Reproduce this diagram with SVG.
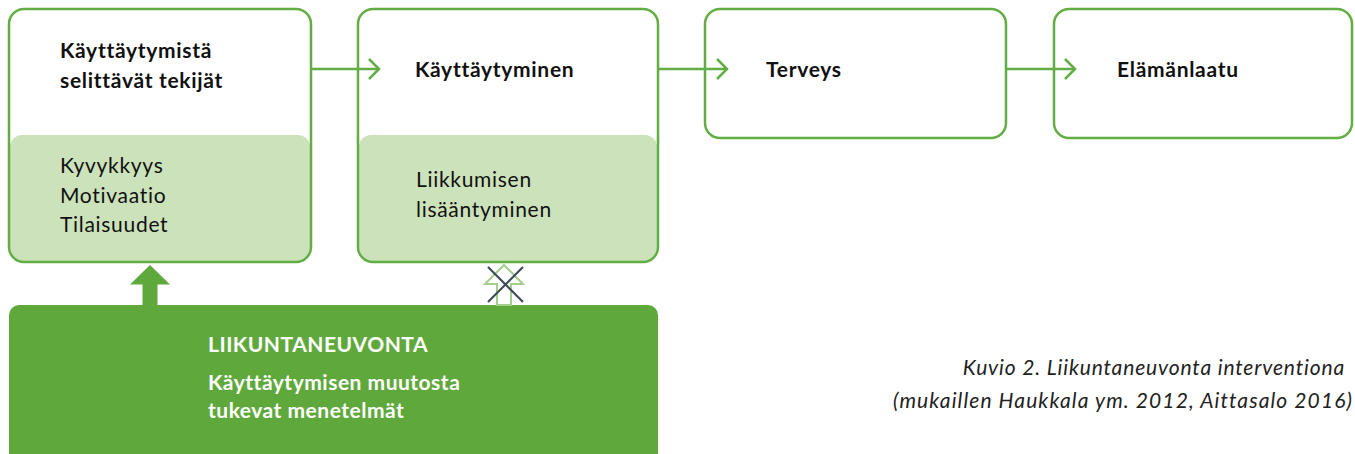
<svg xmlns="http://www.w3.org/2000/svg" width="1355" height="454" viewBox="0 0 1355 454">
<style>
text{font-variant-ligatures:none;font-feature-settings:"liga" 0}
.box{fill:none;stroke:#62ad44;stroke-width:2.5}
.bg{fill:#ffffff}
.light{fill:#cce2bb}
.t{font-family:Lato,"Open Sans","Liberation Sans",sans-serif;font-size:21px;letter-spacing:0.7px;fill:#111}
.b{font-weight:bold}
.w{fill:#ffffff;font-weight:bold;letter-spacing:0.5px}
.cap{font-family:Lato,"Open Sans","Liberation Sans",sans-serif;font-size:21px;letter-spacing:0.85px;font-style:italic;fill:#222;text-anchor:end}
.ln{stroke:#62ad44;stroke-width:2.5;fill:none}
</style>
<rect width="1355" height="454" fill="#ffffff"/>
<g id="node-selittavat">
<rect x="9" y="9" width="302" height="253" rx="15" class="bg"/>
<rect x="10" y="135" width="300" height="126" rx="12" class="light"/>
<rect x="9" y="9" width="302" height="253" rx="15" class="box"/>
<text class="t b" x="60" y="58">Käyttäytymistä</text>
<text class="t b" x="60" y="88">selittävät tekijät</text>
<text class="t" x="60" y="173">Kyvykkyys</text>
<text class="t" x="60" y="203">Motivaatio</text>
<text class="t" x="60" y="232">Tilaisuudet</text>
</g>
<g id="node-kayttaytyminen">
<rect x="358" y="9" width="300" height="253" rx="15" class="bg"/>
<rect x="359" y="135" width="298" height="126" rx="12" class="light"/>
<rect x="358" y="9" width="300" height="253" rx="15" class="box"/>
<text class="t b" x="415" y="77">Käyttäytyminen</text>
<text class="t" x="416" y="187">Liikkumisen</text>
<text class="t" x="416" y="217">lisääntyminen</text>
</g>
<g id="node-terveys">
<rect x="705" y="9" width="301" height="129" rx="15" class="box"/>
<text class="t b" x="766" y="77">Terveys</text>
</g>
<g id="node-elamanlaatu">
<rect x="1054" y="9" width="298" height="129" rx="15" class="box"/>
<text class="t b" x="1117" y="77">Elämänlaatu</text>
</g>
<g id="node-liikuntaneuvonta">
<path d="M9 454 V315 a10 10 0 0 1 10 -10 H648 a10 10 0 0 1 10 10 V454 Z" fill="#5fa93c"/>
<text class="t w" x="208" y="352">LIIKUNTANEUVONTA</text>
<text class="t w" x="208" y="390">Käyttäytymisen muutosta</text>
<text class="t w" x="208" y="418">tukevat menetelmät</text>
</g>
<g id="caption">
<text class="cap" x="1345" y="375">Kuvio 2. Liikuntaneuvonta interventiona</text>
<text class="cap" x="1353" y="408" style="letter-spacing:1.1px">(mukaillen Haukkala ym. 2012, Aittasalo 2016)</text>
</g>
<g id="connectors">
<line x1="311" y1="69" x2="379" y2="69" class="ln"/>
<polyline points="369,59 379,69 369,79" class="ln"/>
<line x1="658" y1="69" x2="727" y2="69" class="ln"/>
<polyline points="717,59 727,69 717,79" class="ln"/>
<line x1="1006" y1="69" x2="1075" y2="69" class="ln"/>
<polyline points="1065,59 1075,69 1065,79" class="ln"/>
<polygon points="150,265 170,284.5 157.5,284.5 157.5,305 142.5,305 142.5,284.5 130,284.5" fill="#5fa93c"/>
<polygon points="504,265 523,284 511,284 511,305 497,305 497,284 485,284" fill="#ffffff" stroke="#a3cf8c" stroke-width="2"/>
<line x1="488" y1="267" x2="523" y2="302" stroke="#3d4a57" stroke-width="2.2"/>
<line x1="523" y1="267" x2="488" y2="302" stroke="#3d4a57" stroke-width="2.2"/>
</g>
</svg>
